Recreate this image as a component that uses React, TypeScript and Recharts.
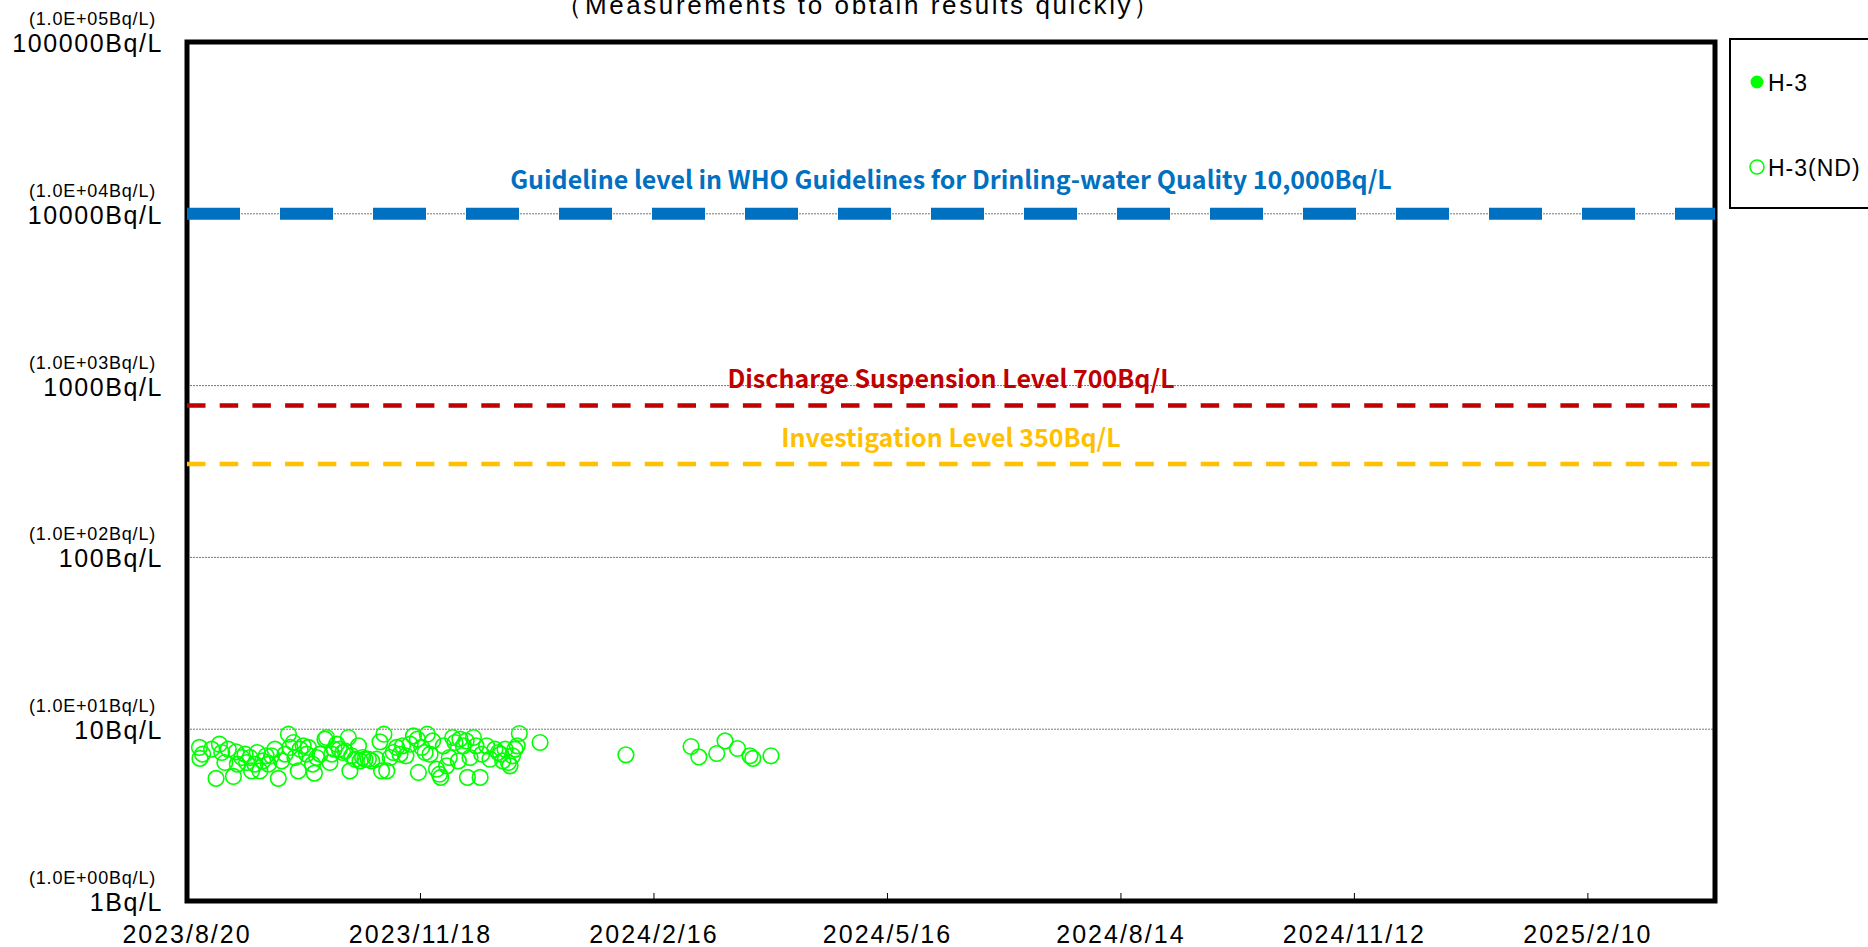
import React from "react";
import {
  ScatterChart,
  Scatter,
  XAxis,
  YAxis,
  CartesianGrid,
  ReferenceLine,
  ReferenceArea,
  Legend,
} from "recharts";

// x values are days counted from 2023/8/20 (left edge of the plot)
const X_END = 589;
const xTickDays = [0, 90, 180, 270, 360, 450, 540];
const xTickLabels = [
  "2023/8/20",
  "2023/11/18",
  "2024/2/16",
  "2024/5/16",
  "2024/8/14",
  "2024/11/12",
  "2025/2/10",
];

const yTicks = [1, 10, 100, 1000, 10000, 100000];
const yTickLabels = ["1Bq/L", "10Bq/L", "100Bq/L", "1000Bq/L", "10000Bq/L", "100000Bq/L"];
const yTickSubLabels = [
  "(1.0E+00Bq/L)",
  "(1.0E+01Bq/L)",
  "(1.0E+02Bq/L)",
  "(1.0E+03Bq/L)",
  "(1.0E+04Bq/L)",
  "(1.0E+05Bq/L)",
];

// H-3 above detection limit: nothing detected in this period
const h3Day: number[] = [];
const h3Bq: number[] = [];

// H-3 not detected (ND) -> plotted at the detection limit
const ndDay = [
  4.8, 5.0, 6.0, 9.5, 11.2, 12.5, 13.4, 14.6, 15.9, 17.9,
  18.9, 19.4, 21.1, 22.4, 23.0, 24.3, 24.9, 26.2, 27.1, 28.1,
  29.2, 30.5, 31.4, 32.6, 33.9, 35.2, 36.5, 37.8, 39.1, 39.7,
  41.0, 41.6, 42.9, 43.6, 44.8, 46.1, 46.8, 48.4, 49.1, 50.0,
  51.3, 53.2, 53.8, 55.1, 55.8, 56.7, 57.7, 58.7, 60.0, 60.9,
  62.2, 62.8, 63.5, 64.8, 66.1, 66.7, 67.7, 68.6, 69.9, 71.2,
  73.1, 74.4, 75.0, 75.9, 77.0, 78.3, 79.5, 80.8, 82.1, 83.1,
  84.4, 86.0, 87.3, 88.8, 89.2, 90.5, 91.8, 92.6, 93.7, 94.7,
  96.2, 97.3, 97.8, 98.8, 100.1, 101.1, 102.4, 103.3, 104.6, 105.2,
  106.5, 107.6, 108.1, 109.1, 110.4, 111.4, 113.0, 113.6, 115.5, 116.8,
  118.7, 120.0, 120.9, 121.7, 122.6, 123.9, 124.5, 125.5, 126.4, 127.3,
  128.1, 136.1,
  169.2, 194.3, 197.3, 204.2, 207.4, 212.2, 217.0, 218.1, 225.1,
];
const ndBq = [
  7.83, 6.76, 7.16, 7.65, 5.17, 8.18, 7.32, 6.4, 7.65, 5.31,
  7.38, 6.26, 6.84, 7.16, 6.4, 6.84, 5.72, 6.26, 7.32, 5.72,
  6.54, 7.0, 6.26, 7.0, 7.65, 5.17, 6.54, 7.16, 9.35, 7.83,
  8.37, 6.84, 5.72, 7.65, 8.0, 7.16, 7.83, 6.26, 5.55, 6.84,
  7.16, 8.75, 8.95, 6.4, 7.16, 7.65, 8.18, 7.65, 7.32, 7.48,
  8.95, 5.72, 7.0, 6.69, 8.0, 6.54, 6.84, 6.69, 6.69, 6.54,
  6.69, 8.44, 5.72, 9.35, 5.72, 6.84, 7.32, 7.83, 7.16, 8.0,
  7.0, 8.18, 9.14, 8.75, 5.6, 7.83, 7.32, 9.35, 7.16, 8.55,
  5.85, 5.47, 5.24, 8.0, 6.12, 6.84, 8.95, 8.37, 6.54, 8.75,
  8.0, 8.55, 5.24, 6.84, 8.95, 8.0, 5.24, 7.16, 8.0, 6.69,
  7.65, 7.32, 7.16, 6.54, 7.65, 6.4, 6.12, 7.0, 7.65, 8.0,
  9.44, 8.37,
  7.09, 7.93, 6.9, 7.22, 8.55, 7.72, 7.0, 6.76, 7.0,
];

// reference levels (the 700 line sits a little above 700 in the source chart)
const guidelineLevel = 10000;
const dischargeLevel = 765;
const investigationLevel = 350;

const GREEN = "#00ff00";
const BLUE = "#0070c0";
const RED = "#c00000";
const ORANGE = "#ffc000";
const AXIS_FONT = "'Liberation Sans', Arial, sans-serif";
const LABEL_FONT = "'Noto Sans CJK JP', 'Noto Sans', sans-serif";

const h3Data = h3Day.map((d, i) => ({ day: d, bq: h3Bq[i] }));
const ndData = ndDay.map((d, i) => ({ day: d, bq: ndBq[i] }));

function YTick({ x, y, payload }: any) {
  let i = yTicks.indexOf(payload.value);
  if (i < 0) i = Math.round(Math.log10(payload.value));
  return (
    <g fontFamily={AXIS_FONT} fill="#000">
      <text x={x - 31} y={y - 23} textAnchor="end" dominantBaseline="central" fontSize={18} letterSpacing={0.8}>
        {yTickSubLabels[i]}
      </text>
      <text x={x - 24} y={y + 1} textAnchor="end" dominantBaseline="central" fontSize={25} letterSpacing={1.6}>
        {yTickLabels[i]}
      </text>
    </g>
  );
}

function XTick({ x, y, payload }: any) {
  const i = xTickDays.indexOf(payload.value);
  return (
    <g fontFamily={AXIS_FONT} fill="#000">
      {i > 0 && <line x1={x} x2={x} y1={y} y2={y - 8} stroke="#000" strokeWidth={1} />}
      <text x={x} y={y + 33} textAnchor="middle" dominantBaseline="central" fontSize={25} letterSpacing={2}>
        {xTickLabels[i]}
      </text>
    </g>
  );
}

// text centred above a horizontal reference line
const lineLabel = (text: string, color: string, lift: number) => (props: any) => {
  const vb = props.viewBox;
  return (
    <text
      x={vb.x + vb.width / 2}
      y={vb.y - lift}
      textAnchor="middle"
      dominantBaseline="central"
      fill={color}
      fontFamily={LABEL_FONT}
      fontWeight={700}
      fontSize={25}
    >
      {text}
    </text>
  );
};

const hollowCircle = (p: any) => (
  <circle cx={p.cx} cy={p.cy} r={7.8} fill="none" stroke={GREEN} strokeWidth={1.6} />
);
const filledCircle = (p: any) => <circle cx={p.cx} cy={p.cy} r={6.5} fill={GREEN} />;

function LegendBox({ payload }: any) {
  const items = payload ?? [];
  return (
    <svg width={146} height={167} style={{ display: "block" }}>
      {items.map((e: any, i: number) => {
        const cy = 42 + i * 85;
        const hollow = e.value === "H-3(ND)";
        return (
          <g key={e.value}>
            <circle
              cx={26}
              cy={cy}
              r={hollow ? 7 : 6.5}
              fill={hollow ? "none" : GREEN}
              stroke={GREEN}
              strokeWidth={hollow ? 1.6 : 0}
            />
            <text x={37} y={cy + 1} dominantBaseline="central" fontSize={23} letterSpacing={1} fontFamily={AXIS_FONT} fill="#000">
              {e.value}
            </text>
          </g>
        );
      })}
    </svg>
  );
}

export default function App() {
  return (
    <div
      style={{
        position: "absolute",
        left: 0,
        top: 0,
        width: 1868,
        height: 947,
        overflow: "hidden",
        background: "#fff",
        fontFamily: AXIS_FONT,
      }}
    >
      <div
        style={{
          position: "absolute",
          left: 0,
          top: -8,
          width: 1718,
          textAlign: "center",
          fontSize: 26,
          lineHeight: "27px",
          letterSpacing: 2.6,
          color: "#000",
          whiteSpace: "nowrap",
        }}
      >
        （Measurements to obtain results quickly）
      </div>

      <ScatterChart width={1868} height={947} margin={{ top: 42, right: 153, bottom: 6, left: 37 }}>
        <CartesianGrid horizontal vertical={false} stroke="#777" strokeDasharray="2 1" />

        <XAxis
          dataKey="day"
          type="number"
          domain={[0, X_END]}
          ticks={xTickDays}
          height={40}
          axisLine={false}
          tickLine={false}
          tickSize={0}
          tickMargin={0}
          tick={<XTick />}
          interval={0}
        />
        <YAxis
          dataKey="bq"
          type="number"
          scale="log"
          domain={[1, 100000]}
          ticks={yTicks}
          allowDataOverflow
          width={150}
          axisLine={false}
          tickLine={false}
          tickSize={0}
          tickMargin={0}
          tick={<YTick />}
          interval={0}
        />

        <ReferenceLine
          y={guidelineLevel}
          stroke={BLUE}
          strokeWidth={12}
          strokeDasharray="53 40"
          label={lineLabel("Guideline level in WHO Guidelines for Drinling-water Quality 10,000Bq/L", BLUE, 36)}
        />
        <ReferenceLine
          y={dischargeLevel}
          stroke={RED}
          strokeWidth={4.5}
          strokeDasharray="18.5 14.2"
          label={lineLabel("Discharge Suspension Level 700Bq/L", RED, 29)}
        />
        <ReferenceLine
          y={investigationLevel}
          stroke={ORANGE}
          strokeWidth={4.5}
          strokeDasharray="18.5 14.2"
          label={lineLabel("Investigation Level 350Bq/L", ORANGE, 28)}
        />

        <Scatter name="H-3" data={h3Data} fill={GREEN} shape={filledCircle} isAnimationActive={false} />
        <Scatter name="H-3(ND)" data={ndData} fill="none" stroke={GREEN} shape={hollowCircle} isAnimationActive={false} />

        <ReferenceArea
          x1={0}
          x2={X_END}
          y1={1}
          y2={100000}
          fill="none"
          fillOpacity={0}
          stroke="#000"
          strokeWidth={5}
          ifOverflow="visible"
        />

        <Legend
          layout="vertical"
          align="center"
          verticalAlign="middle"
          content={<LegendBox />}
          wrapperStyle={{
            left: 1729,
            top: 38,
            width: 150,
            height: 171,
            border: "2px solid #000",
            boxSizing: "border-box",
            background: "#fff",
          }}
        />
      </ScatterChart>
    </div>
  );
}
